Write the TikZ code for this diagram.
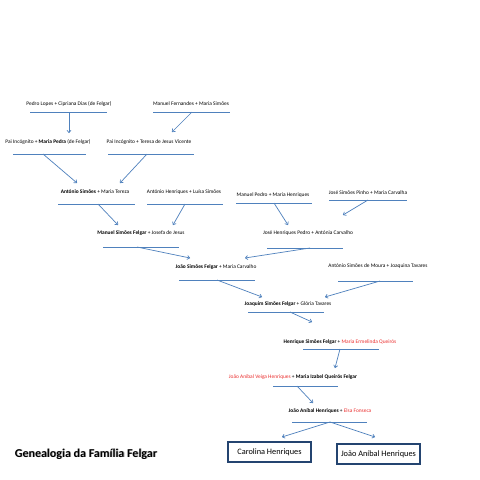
\documentclass[tikz,border=0pt]{standalone}
\usepackage{fontspec}
\setmainfont{Carlito}
\usetikzlibrary{arrows.meta}
\definecolor{lineblue}{RGB}{79,129,189}
\definecolor{boxblue}{RGB}{36,68,112}
\definecolor{namered}{RGB}{235,45,45}
\tikzset{
  couple/.style={inner sep=0pt, font=\fontsize{5.4}{6.5}\selectfont, text=black},
  uline/.style={draw=lineblue, line width=0.8pt},
  arr/.style={draw=lineblue, line width=0.7pt, -{To[length=3pt,width=4.5pt]}},
  childbox/.style={draw=boxblue, line width=1.3pt, minimum width=83pt, minimum height=20pt, inner sep=0pt, font=\fontsize{8.3}{10}\selectfont},
}
\newcommand{\rd}[1]{\textcolor{namered}{#1}}
\begin{document}
\begin{tikzpicture}[x=1pt,y=-1pt]
\useasboundingbox[fill=white] (0,0) rectangle (480,480);

% couples
\node[couple] (p1) at (69,104) {Pedro Lopes + Cipriana Dias (de Felgar)};
\node[couple] (p2) at (191,104) {Manuel Fernandes + Maria Simões};
\node[couple] (p3) at (48,142) {Pai Incógnito + \textbf{Maria Pedra} (de Felgar)};
\node[couple] (p4) at (149,142) {Pai Incógnito + Teresa de Jesus Vicente};
\node[couple] (p5) at (95,192) {\textbf{António Simões} + Maria Tereza};
\node[couple] (p6) at (184,192) {António Henriques + Luísa Simões};
\node[couple] (p7) at (273,195) {Manuel Pedro + Maria Henriques};
\node[couple] (p8) at (368,193) {José Simões Pinho + Maria Carvalha};
\node[couple] (p9) at (141,233) {\textbf{Manuel Simões Felgar} + Josefa de Jesus};
\node[couple] (p10) at (308,233) {José Henriques Pedro + Antónia Carvalho};
\node[couple] (p11) at (216,267) {\textbf{João Simões Felgar} + Maria Carvalho};
\node[couple] (p12) at (378,266) {António Simões de Moura + Joaquina Tavares};
\node[couple] (p13) at (288,304) {\textbf{Joaquim Simões Felgar} + Glória Tavares};
\node[couple] (p14) at (340,342) {\textbf{Henrique Simões Felgar} + \rd{Maria Ermelinda Queirós}};
\node[couple] (p15) at (293,377) {\rd{João Aníbal Veiga Henriques} + \textbf{Maria Izabel Queirós Felgar}};
\node[couple] (p16) at (330,411) {\textbf{João Aníbal Henriques} + \rd{Elsa Fonseca}};

% children boxes
\node[childbox] (b1) at (269.5,452) {Carolina Henriques};
\node[childbox] (b2) at (378.5,454) {João Aníbal Henriques};

% title
\node[inner sep=0pt, font=\fontsize{12}{14}\bfseries, text=black!30] (titleshadow) at (86.8,454.8) {Genealogia da Família Felgar};
\node[inner sep=0pt, font=\fontsize{12}{14}\bfseries] (title) at (86,454) {Genealogia da Família Felgar};

% underlines
\draw[uline] (30,112) -- (107,112);
\draw[uline] (153,112) -- (230,112);
\draw[uline] (13,154) -- (86,154);
\draw[uline] (108,154) -- (194,154);
\draw[uline] (58,204) -- (135,204);
\draw[uline] (147,204) -- (223,204);
\draw[uline] (236,203) -- (312,203);
\draw[uline] (329,200) -- (407,200);
\draw[uline] (103,247) -- (179,247);
\draw[uline] (267,248) -- (343,248);
\draw[uline] (179,280) -- (255,280);
\draw[uline] (338,281) -- (413,281);
\draw[uline] (248,312) -- (324,312);
\draw[uline] (303,349) -- (379,349);
\draw[uline] (273,386) -- (338,386);
\draw[uline] (292,422) -- (367,422);

% arrow endpoints
\coordinate (s1) at (69,113);  \coordinate (e1) at (69,133);
\coordinate (s2) at (192,112); \coordinate (e2) at (172,132);
\coordinate (s3) at (43,154);  \coordinate (e3) at (77,183);
\coordinate (s4) at (147,154); \coordinate (e4) at (120,183);
\coordinate (s5) at (98,204);  \coordinate (e5) at (118,225);
\coordinate (s6) at (185,204); \coordinate (e6) at (173,225);
\coordinate (s7) at (274,203); \coordinate (e7) at (288,225);
\coordinate (s8) at (368,200); \coordinate (e8) at (343,215);
\coordinate (s9) at (137,247); \coordinate (e9) at (190,258);
\coordinate (s10) at (310,248); \coordinate (e10) at (245,258);
\coordinate (s11) at (217,280); \coordinate (e11) at (262,297);
\coordinate (s12) at (380,281); \coordinate (e12) at (325,297);
\coordinate (s13) at (290,312); \coordinate (e13) at (312,322);
\coordinate (s14) at (340,349); \coordinate (e14) at (335,368);
\coordinate (s15) at (297,386); \coordinate (e15) at (313,403);
\coordinate (s16) at (330,422); \coordinate (e16) at (282,437);
\coordinate (e17) at (375,437);

\foreach \i in {1,...,16} { \draw[arr] (s\i) -- (e\i); }
\draw[arr] (s16) -- (e17);
\end{tikzpicture}
\end{document}
